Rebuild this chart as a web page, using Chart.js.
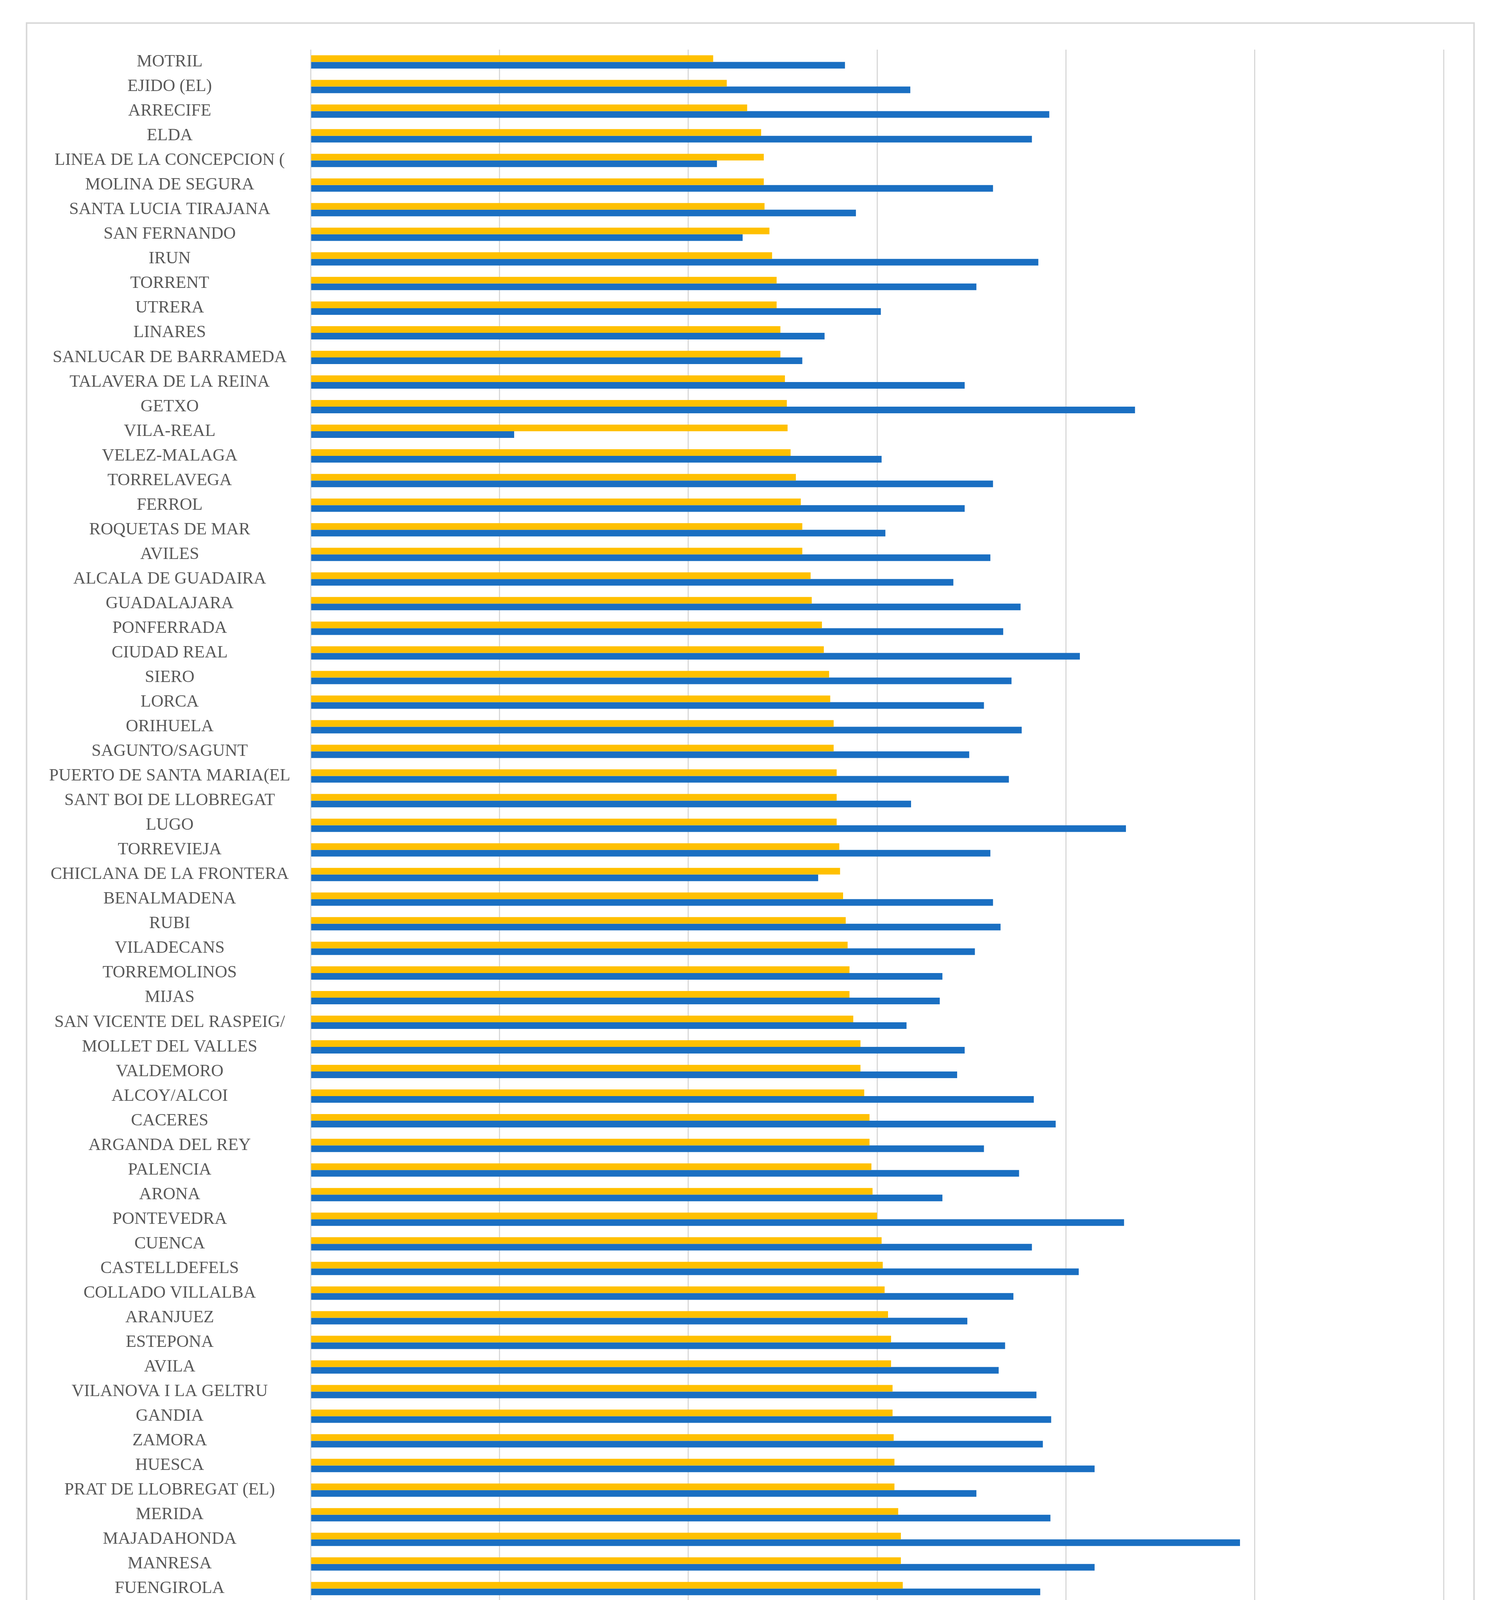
<!DOCTYPE html>
<html>
<head>
<meta charset="utf-8">
<script src="https://cdn.jsdelivr.net/npm/chart.js@4/dist/chart.umd.min.js"></script>
<style>
  html, body { margin: 0; padding: 0; background: #fff; }
  #page { position: relative; width: 3819px; height: 5586px; }
  #frame {
    position: absolute; left: 66px; top: 57px; width: 3709px; height: 5458px;
    box-sizing: border-box; border: 4px solid #d9d9d9; z-index: 0;
  }
  #chart { position: absolute; left: 0; top: 0; z-index: 1; }
</style>
</head>
<body>
<div id="page">
  <div id="frame"></div>
  <canvas id="chart" width="3819" height="5586"></canvas>
</div>
<script>
// city names, top to bottom
const cities = [
  'MOTRIL', 'EJIDO (EL)', 'ARRECIFE', 'ELDA', 'LINEA DE LA CONCEPCION (',
  'MOLINA DE SEGURA', 'SANTA LUCIA TIRAJANA', 'SAN FERNANDO', 'IRUN', 'TORRENT',
  'UTRERA', 'LINARES', 'SANLUCAR DE BARRAMEDA', 'TALAVERA DE LA REINA', 'GETXO',
  'VILA-REAL', 'VELEZ-MALAGA', 'TORRELAVEGA', 'FERROL', 'ROQUETAS DE MAR',
  'AVILES', 'ALCALA DE GUADAIRA', 'GUADALAJARA', 'PONFERRADA', 'CIUDAD REAL',
  'SIERO', 'LORCA', 'ORIHUELA', 'SAGUNTO/SAGUNT', 'PUERTO DE SANTA MARIA(EL',
  'SANT BOI DE LLOBREGAT', 'LUGO', 'TORREVIEJA', 'CHICLANA DE LA FRONTERA', 'BENALMADENA',
  'RUBI', 'VILADECANS', 'TORREMOLINOS', 'MIJAS', 'SAN VICENTE DEL RASPEIG/',
  'MOLLET DEL VALLES', 'VALDEMORO', 'ALCOY/ALCOI', 'CACERES', 'ARGANDA DEL REY',
  'PALENCIA', 'ARONA', 'PONTEVEDRA', 'CUENCA', 'CASTELLDEFELS',
  'COLLADO VILLALBA', 'ARANJUEZ', 'ESTEPONA', 'AVILA', 'VILANOVA I LA GELTRU',
  'GANDIA', 'ZAMORA', 'HUESCA', 'PRAT DE LLOBREGAT (EL)', 'MERIDA',
  'MAJADAHONDA', 'MANRESA', 'FUENGIROLA', 'PINTO', 'RIVAS-VACIAMADRID',
  'COSLADA', 'CORNELLA DE LLOBREGAT', 'BENIDORM', 'SAN BARTOLOME DE TIRAJAN', 'BOADILLA DEL MONTE',
  'TOLEDO', 'CERDANYOLA DEL VALLES', 'SEGOVIA', 'GRANOLLERS', 'SAN SEBASTIAN DE LOS REY',
  'GIRONA', 'PATERNA', 'SANT CUGAT DEL VALLES', 'ROZAS DE MADRID (LAS)', 'POZUELO DE ALARCON',
  'SANTIAGO DE COMPOSTELA'
];

const c3 = [
  1.066, 1.102, 1.156, 1.193, 1.200, 1.200, 1.202, 1.215, 1.222, 1.234,
  1.234, 1.244, 1.244, 1.256, 1.261, 1.263, 1.271, 1.285, 1.298, 1.302,
  1.302, 1.324, 1.327, 1.354, 1.359, 1.373, 1.376, 1.385, 1.385, 1.393,
  1.393, 1.393, 1.400, 1.402, 1.410, 1.417, 1.422, 1.427, 1.427, 1.437,
  1.456, 1.456, 1.466, 1.480, 1.480, 1.485, 1.488, 1.500, 1.512, 1.515,
  1.520, 1.529, 1.537, 1.537, 1.541, 1.541, 1.544, 1.546, 1.546, 1.556,
  1.563, 1.563, 1.568, 1.576, 1.590, 1.595, 1.598, 1.598, 1.610, 1.617,
  1.627, 1.632, 1.637, 1.637, 1.651, 1.666, 1.680, 1.702, 1.715, 1.729,
  1.737
];

const concentrationFirms = [
  1.415, 1.588, 1.956, 1.910, 1.076, 1.807, 1.444, 1.144, 1.927, 1.763,
  1.510, 1.361, 1.302, 1.732, 2.183, 0.539, 1.512, 1.807, 1.732, 1.522,
  1.800, 1.702, 1.880, 1.834, 2.037, 1.856, 1.783, 1.883, 1.744, 1.849,
  1.590, 2.159, 1.800, 1.344, 1.807, 1.827, 1.759, 1.673, 1.666, 1.578,
  1.732, 1.712, 1.915, 1.973, 1.783, 1.876, 1.673, 2.154, 1.910, 2.034,
  1.861, 1.739, 1.839, 1.822, 1.922, 1.961, 1.939, 2.076, 1.763, 1.959,
  2.461, 2.076, 1.932, 1.968, 2.076, 1.827, 1.793, 1.839, 1.827, 2.461,
  2.198, 2.098, 1.917, 2.168, 2.300, 2.361, 2.293, 2.532, 2.605, 2.688,
  2.327
];

const xTickLabels = ['0', '0,5', '1', '1,5', '2', '2,5', '3'];

const textColor = '#595959';
const gridColor = '#d9d9d9';
Chart.defaults.font.family = '"Liberation Serif", "DejaVu Serif", serif';
Chart.defaults.font.size = 44;
Chart.defaults.color = textColor;

new Chart(document.getElementById('chart').getContext('2d'), {
  type: 'bar',
  data: {
    labels: cities,
    datasets: [
      {
        label: 'C3',
        data: c3,
        backgroundColor: '#ffc000',
        categoryPercentage: 0.54,
        barPercentage: 1.0
      },
      {
        label: 'Concentration index (firms)',
        data: concentrationFirms,
        backgroundColor: '#1a6fc2',
        categoryPercentage: 0.54,
        barPercentage: 1.0
      }
    ]
  },
  options: {
    indexAxis: 'y',
    responsive: false,
    devicePixelRatio: 1,
    animation: false,
    layout: { padding: { left: 70, right: 33, top: 127, bottom: 124 } },
    scales: {
      x: {
        min: 0,
        max: 3,
        ticks: {
          stepSize: 0.5,
          padding: 39,
          callback: (value, index) => xTickLabels[index]
        },
        grid: { color: gridColor, lineWidth: 3, drawTicks: false },
        border: { display: false },
        afterFit: (scale) => { scale.height = 93; }
      },
      y: {
        ticks: { padding: 44, crossAlign: 'center', autoSkip: false },
        grid: { display: false, drawTicks: false },
        border: { display: false },
        afterFit: (scale) => { scale.width = 725; }
      },
      // empty right-hand spacer so the legend is centred on the frame
      spacer: {
        type: 'category',
        position: 'right',
        ticks: { display: false },
        grid: { display: false, drawTicks: false },
        border: { display: false },
        afterFit: (scale) => { scale.width = 91; }
      }
    },
    plugins: {
      legend: {
        position: 'bottom',
        labels: {
          boxWidth: 29,
          boxHeight: 34,
          padding: 76,
          color: textColor,
          font: { size: 50 }
        }
      },
      tooltip: { enabled: false }
    }
  }
});
</script>
</body>
</html>
